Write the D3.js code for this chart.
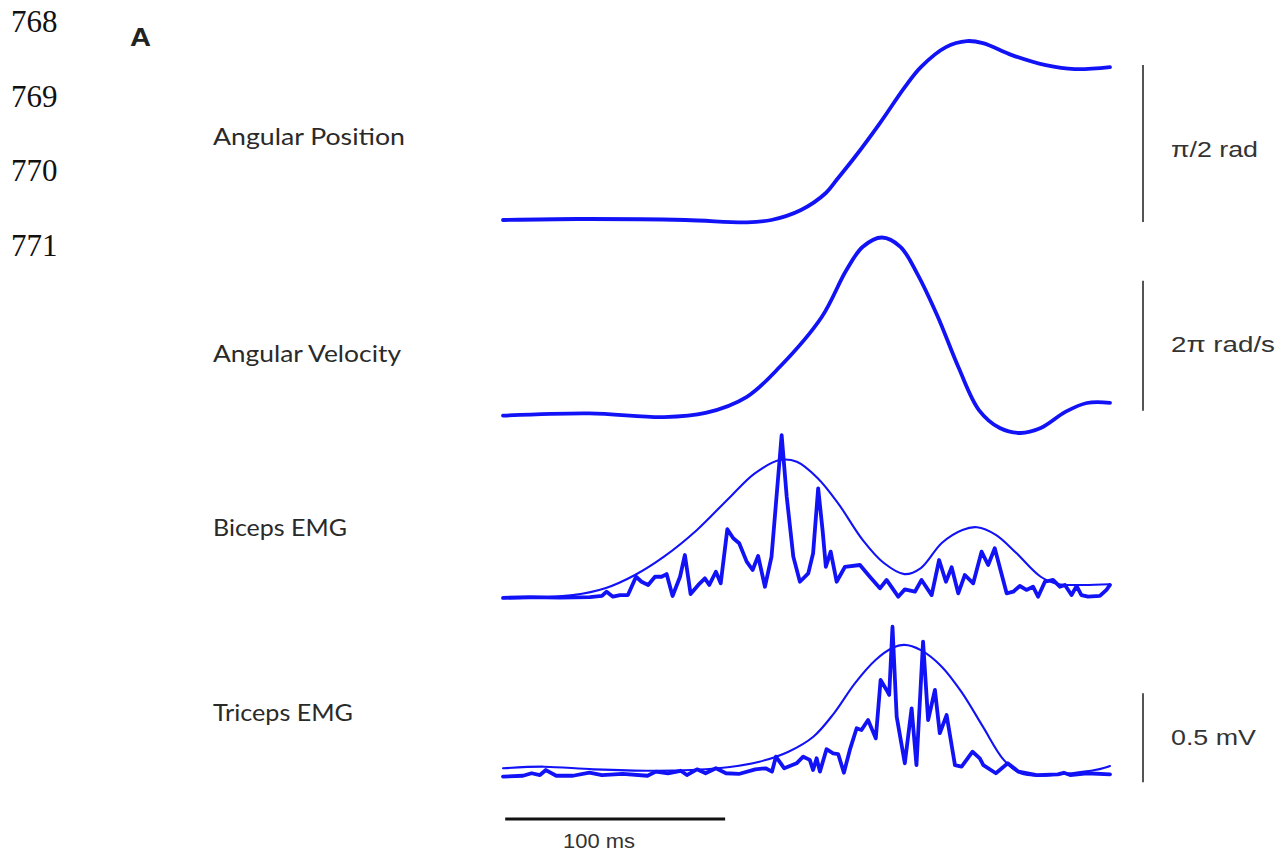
<!DOCTYPE html>
<html>
<head>
<meta charset="utf-8">
<script src="https://cdn.jsdelivr.net/npm/d3@7"></script>
<style>
  body { margin: 0; background: #fff; }
  svg { display: block; }
</style>
</head>
<body>
<svg id="fig" width="1286" height="856"></svg>
<script>
// ---- text content ----
const lineNumbers = ["768", "769", "770", "771"];
const panelLetter = "A";
const traceLabels = ["Angular Position", "Angular Velocity", "Biceps EMG", "Triceps EMG"];
const scaleLabels = ["π/2 rad", "2π rad/s", "0.5 mV"];
const timeBarLabel = "100 ms";

// ---- traces: [time (ms), value] ----
// elbow angle, rad
const angularPosition = [
  [0, 0.01], [34, 0.02], [83, 0.01], [111, -0.013], [122, 0.01], [135.5, 0.11],
  [146.8, 0.28], [152, 0.42], [160, 0.64], [171.4, 0.98], [182.7, 1.34],
  [190, 1.54], [201.4, 1.74], [210.9, 1.80], [218.2, 1.78], [231.4, 1.66],
  [246.8, 1.56], [260, 1.52], [276, 1.54]
];
// elbow angular velocity, rad/s
const angularVelocity = [
  [0, -0.03], [39.3, 0.08], [73.2, -0.10], [92.1, 0.10], [110.9, 0.88],
  [125.9, 2.33], [145, 4.75], [156.1, 7.00], [163.6, 8.13], [172.3, 8.58],
  [180.7, 8.13], [188.2, 6.86], [197.7, 4.75], [207, 2.33], [216.4, 0.24],
  [225.9, -0.63], [235.3, -0.87], [244.5, -0.63], [255.9, 0.16], [265.5, 0.58],
  [276, 0.59]
];
// biceps rectified EMG, mV
const bicepsRaw = [
  [0, 0.006], [12.3, 0.011], [25.9, 0.008], [39.5, 0.011], [45, 0.017], [47.1, 0.041],
  [50, 0.013], [53.2, 0.022], [56.8, 0.022], [60.5, 0.125], [63, 0.097], [66, 0.079],
  [69.1, 0.125], [72.1, 0.125], [74.4, 0.140], [77.1, 0.017], [80.5, 0.125],
  [82.7, 0.247], [85.3, 0.028], [88.8, 0.079], [91.8, 0.116], [93.8, 0.079],
  [96.8, 0.153], [99, 0.088], [102, 0.392], [104.7, 0.341], [107.4, 0.313],
  [110.8, 0.210], [113.5, 0.163], [116, 0.242], [119.1, 0.069], [122.1, 0.238],
  [126.7, 0.921], [129, 0.575], [132, 0.238], [135, 0.097], [138.8, 0.144],
  [141, 0.257], [143.3, 0.622], [145.3, 0.388], [146.8, 0.181], [149, 0.266],
  [151.7, 0.097], [155.5, 0.181], [162.3, 0.191], [166.8, 0.125], [171.4, 0.060],
  [174.4, 0.107], [179.7, 0.013], [182.7, 0.054], [187.3, 0.041], [190.3, 0.107],
  [194.9, 0.022], [198.3, 0.219], [201.4, 0.097], [204, 0.178], [207, 0.032],
  [210, 0.135], [213.8, 0.088], [217.6, 0.266], [220.6, 0.191], [223.6, 0.285],
  [229, 0.032], [232, 0.041], [235, 0.073], [238, 0.051], [241, 0.069],
  [243.3, 0.013], [246.4, 0.097], [250.1, 0.107], [253.2, 0.069], [255.5, 0.079],
  [258.5, 0.022], [260.8, 0.073], [263, 0.022], [266, 0.013], [271.4, 0.017],
  [274.4, 0.051], [276, 0.079]
];
// biceps model envelope, mV
const bicepsEnvelope = [
  [0, 0.004], [31.8, 0.022], [46.8, 0.062], [60, 0.135], [73.2, 0.238],
  [88.2, 0.388], [103.4, 0.575], [114.5, 0.706], [125.9, 0.781], [133.6, 0.771],
  [143, 0.680], [152.3, 0.539], [163.6, 0.331], [173.2, 0.202], [182.5, 0.140],
  [190, 0.174], [199.5, 0.315], [208.9, 0.388], [215.5, 0.403], [224.1, 0.360],
  [233.4, 0.258], [244.5, 0.125], [252.3, 0.084], [263.6, 0.079], [276, 0.083]
];
// triceps rectified EMG, mV
const tricepsRaw = [
  [0, 0.002], [9.1, 0.007], [13, 0.021], [16.8, 0.011], [19.5, 0.039], [24.2, 0.007],
  [31.8, 0.007], [39.3, 0.024], [45, 0.011], [54.4, 0.017], [65.7, 0.007],
  [69.5, 0.030], [75, 0.021], [80.8, 0.035], [83.6, 0.011], [88.2, 0.043],
  [92.1, 0.021], [96.8, 0.049], [101.4, 0.021], [107.2, 0.017], [114.7, 0.043],
  [119.4, 0.049], [122.3, 0.030], [124.1, 0.114], [127.9, 0.049], [133.5, 0.077],
  [136.5, 0.114], [139.5, 0.096], [141, 0.039], [142.6, 0.105], [144.1, 0.030],
  [147.1, 0.156], [150.1, 0.133], [152.4, 0.129], [155, 0.024], [157.7, 0.152],
  [160.8, 0.274], [163, 0.264], [166, 0.320], [169.5, 0.217], [171.7, 0.545],
  [174.4, 0.489], [175.6, 0.461], [177.1, 0.844], [179, 0.339], [182.7, 0.077],
  [185.8, 0.386], [188, 0.067], [191, 0.760], [193.3, 0.320], [196.4, 0.489],
  [198.6, 0.246], [201.7, 0.348], [205.5, 0.067], [208.5, 0.058], [213.5, 0.142],
  [216.8, 0.105], [218.4, 0.067], [224.1, 0.021], [229.5, 0.077], [234.4, 0.030],
  [242.7, 0.011], [252.3, 0.015], [255, 0.024], [257.9, 0.011], [265.5, 0.021],
  [276, 0.015]
];
// triceps model envelope, mV
const tricepsEnvelope = [
  [0, 0.049], [18.6, 0.058], [41.2, 0.043], [69.5, 0.035], [97.7, 0.049],
  [116.6, 0.086], [129.8, 0.142], [141.1, 0.226], [150.5, 0.358], [160, 0.526],
  [169.4, 0.657], [176.8, 0.723], [182.5, 0.742], [190, 0.713], [199.5, 0.620],
  [208.9, 0.470], [218.2, 0.283], [227.7, 0.096], [235.3, 0.021], [244.7, 0.007],
  [257.9, 0.021], [269.1, 0.039], [276, 0.062]
];

// ---- scale bars (data units) ----
const positionBar = [-0.01, -0.01 + Math.PI / 2];      // rad
const velocityBar = [0.2, 0.2 + 2 * Math.PI];           // rad/s
const emgBar = [-0.03, 0.47];                           // mV
const timeBar = [1, 101];                               // ms

// ---- scales ----
const x = d3.scaleLinear().domain([0, 276]).range([503, 1110]);
const yPos = d3.scaleLinear().domain([0, Math.PI / 2]).range([221, 64]);
const yVel = d3.scaleLinear().domain([0, 2 * Math.PI]).range([415, 285]);
const yBic = d3.scaleLinear().domain([0, 0.5]).range([599, 510]);
const yTri = d3.scaleLinear().domain([0, 0.5]).range([777, 688]);

const svg = d3.select("#fig");
const BLUE = "#1212f6";

// ---- document line numbers ----
svg.append("g").selectAll("text").data(lineNumbers).join("text")
  .attr("x", 11).attr("y", (d, i) => 32 + i * 74.5)
  .attr("font-family", "Liberation Serif, Times New Roman, serif")
  .attr("font-size", 31).attr("fill", "#111").text(d => d);

// panel letter
svg.append("text").attr("x", 130).attr("y", 46)
  .attr("font-family", "Liberation Sans, Arial, sans-serif")
  .attr("font-weight", "bold").attr("font-size", 25)
  .attr("textLength", 21).attr("lengthAdjust", "spacingAndGlyphs")
  .attr("fill", "#222").text(panelLetter);

// trace names
const labelBase = [145, 362, 536, 721];
const labelLen = [192, 188, 134, 140];
svg.append("g").selectAll("text").data(traceLabels).join("text")
  .attr("x", 213).attr("y", (d, i) => labelBase[i])
  .attr("textLength", (d, i) => labelLen[i]).attr("lengthAdjust", "spacingAndGlyphs")
  .attr("font-family", "Lato, Open Sans, sans-serif")
  .attr("font-size", 23).attr("fill", "#2a2a2a").text(d => d);

// ---- traces ----
const smooth = (ys) => d3.line().x(d => x(d[0])).y(d => ys(d[1])).curve(d3.curveCatmullRom.alpha(0.5));
const jagged = (ys) => d3.line().x(d => x(d[0])).y(d => ys(d[1])).curve(d3.curveLinear);

function trace(data, gen, width) {
  svg.append("path").datum(data)
    .attr("d", gen)
    .attr("fill", "none").attr("stroke", BLUE)
    .attr("stroke-width", width)
    .attr("stroke-linejoin", "round").attr("stroke-linecap", "round");
}
trace(angularPosition, smooth(yPos), 3.8);
trace(angularVelocity, smooth(yVel), 3.8);
trace(bicepsEnvelope, smooth(yBic), 2.1);
trace(bicepsRaw, jagged(yBic), 3.8);
trace(tricepsEnvelope, smooth(yTri), 2.1);
trace(tricepsRaw, jagged(yTri), 3.8);

// ---- vertical scale bars ----
const barX = 1143;
const vBars = [
  { scale: yPos, range: positionBar, label: scaleLabels[0], base: 157, len: 87 },
  { scale: yVel, range: velocityBar, label: scaleLabels[1], base: 352, len: 104 },
  { scale: yTri, range: emgBar, label: scaleLabels[2], base: 745, len: 85 }
];
vBars.forEach(b => {
  svg.append("line")
    .attr("x1", barX).attr("x2", barX)
    .attr("y1", b.scale(b.range[0])).attr("y2", b.scale(b.range[1]))
    .attr("stroke", "#555").attr("stroke-width", 2);
  svg.append("text")
    .attr("x", 1171).attr("y", b.base)
    .attr("textLength", b.len).attr("lengthAdjust", "spacingAndGlyphs")
    .attr("font-family", "Liberation Sans, Arial, sans-serif")
    .attr("font-size", 22).attr("fill", "#333").text(b.label);
});

// ---- time scale bar ----
svg.append("line")
  .attr("x1", x(timeBar[0])).attr("x2", x(timeBar[1]))
  .attr("y1", 819).attr("y2", 819)
  .attr("stroke", "#111").attr("stroke-width", 3);
svg.append("text")
  .attr("x", 563).attr("y", 848)
  .attr("textLength", 72).attr("lengthAdjust", "spacingAndGlyphs")
  .attr("font-family", "Liberation Sans, Arial, sans-serif")
  .attr("font-size", 20).attr("fill", "#333").text(timeBarLabel);
</script>
</body>
</html>
